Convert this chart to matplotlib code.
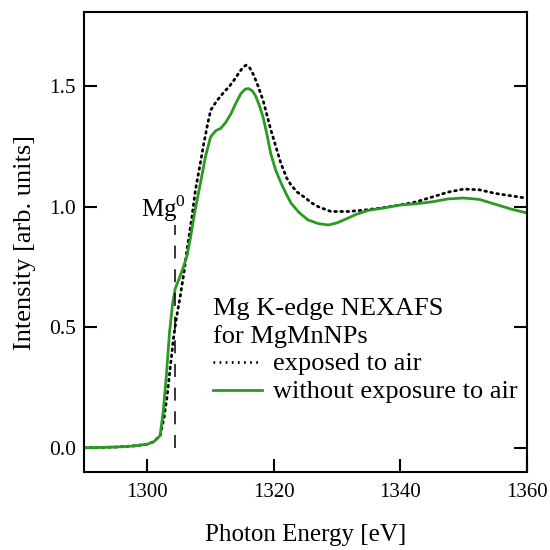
import matplotlib
matplotlib.use("Agg")
import matplotlib.pyplot as plt

plt.rcParams['font.family'] = ['Liberation Serif', 'DejaVu Serif']
plt.rcParams['mathtext.fontset'] = 'custom'
plt.rcParams['mathtext.rm'] = 'Liberation Serif'

# without exposure to air (green)
energy_noair = [1290, 1295, 1298, 1300, 1301, 1302, 1302.5, 1303, 1303.5, 1304, 1304.4, 1305,
                1305.7, 1306.3, 1306.8, 1307.5, 1308.4, 1309.2, 1310, 1310.8, 1311.6, 1312.4,
                1313.2, 1314, 1314.8, 1315.5, 1316, 1316.6, 1317.1, 1317.7, 1318.3, 1318.9,
                1319.5, 1320.3, 1321.1, 1322, 1322.7, 1324, 1325.4, 1327, 1328.6, 1330, 1331.5,
                1333, 1335, 1337.5, 1340, 1342.5, 1345, 1347.5, 1350, 1352.5, 1355, 1357.5, 1360]
intensity_noair = [0.0, 0.003, 0.008, 0.015, 0.025, 0.05, 0.15, 0.30, 0.48, 0.60, 0.66, 0.70,
                   0.75, 0.80, 0.87, 0.98, 1.10, 1.21, 1.29, 1.315, 1.325, 1.35,
                   1.385, 1.43, 1.47, 1.488, 1.49, 1.48, 1.46, 1.42, 1.37, 1.30,
                   1.22, 1.15, 1.10, 1.05, 1.015, 0.975, 0.945, 0.93, 0.924, 0.933, 0.95,
                   0.968, 0.985, 0.995, 1.007, 1.012, 1.02, 1.032, 1.036, 1.03, 1.01, 0.99, 0.974]

# exposed to air (black dotted)
energy_air = [1290, 1295, 1298, 1300, 1301, 1302, 1302.6, 1303.1, 1303.6, 1304.1, 1304.6, 1305.2,
              1305.8, 1306.3, 1307, 1307.6, 1308.3, 1308.9, 1309.5, 1310, 1311, 1312.1, 1313,
              1313.7, 1314.6, 1315.2, 1315.6, 1316.2, 1316.8, 1317.5, 1318.3, 1319, 1319.5,
              1320.3, 1321.1, 1322, 1322.7, 1323.7, 1324.8, 1326, 1327, 1328, 1329, 1331.7,
              1334, 1337, 1340, 1342.5, 1345, 1347.5, 1350, 1352.5, 1355, 1357.5, 1360]
intensity_air = [0.0, 0.003, 0.008, 0.015, 0.025, 0.05, 0.12, 0.21, 0.33, 0.45, 0.54, 0.63,
                 0.73, 0.83, 0.95, 1.07, 1.17, 1.26, 1.34, 1.40, 1.44, 1.475, 1.50,
                 1.525, 1.56, 1.58, 1.587, 1.575, 1.546, 1.50, 1.44, 1.37, 1.32,
                 1.25, 1.18, 1.12, 1.09, 1.06, 1.04, 1.015, 1.0, 0.99, 0.98, 0.98,
                 0.985, 0.995, 1.007, 1.02, 1.04, 1.06, 1.073, 1.07, 1.055, 1.045, 1.035]

mg0_energy = 1304.3
mg0_top = 0.924

xticks = [1300, 1320, 1340, 1360]
yticks = [0.0, 0.5, 1.0, 1.5]
ytick_labels = ['0.0', '0.5', '1.0', '1.5']

green = '#2a9a22'
dot_style = (0, (0.6, 1.6))

fig = plt.figure(figsize=(5.5, 5.5), dpi=100)
ax = fig.add_axes([0.153, 0.142, 0.805, 0.836])

ax.plot(energy_air, intensity_air, color='black', lw=2.0, linestyle=dot_style,
        dash_capstyle='round')
ax.plot(energy_noair, intensity_noair, color=green, lw=2.0)
ax.plot([mg0_energy, mg0_energy], [0.0, mg0_top], color='black', lw=1.1,
        linestyle=(0, (8.5, 7)))
ax.text(1299.0, 0.957, r'Mg$^{0}$', ha='left', va='baseline', fontsize=18)

ax.set_xlim(1290, 1360)
ax.set_ylim(-0.1, 1.807)
ax.set_xticks(xticks)
ax.set_yticks(yticks)
ax.set_yticklabels(ytick_labels)
ax.tick_params(axis='both', direction='in', length=9.4, width=1.5)
ax.tick_params(axis='x', labelsize=15, pad=8)
ax.tick_params(axis='y', labelsize=15.5, pad=6, right=True)
for s in ax.spines.values():
    s.set_linewidth(1.5)

ax.set_xlabel('Photon Energy [eV]', fontsize=18, labelpad=16)
ax.set_ylabel('Intensity [arb. units]', fontsize=19, labelpad=9)

# annotation legend
tx = 0.291
fs = 19
ax.text(tx, 0.341, 'Mg K-edge NEXAFS', transform=ax.transAxes, fontsize=fs, va='baseline')
ax.text(tx, 0.280, 'for MgMnNPs', transform=ax.transAxes, fontsize=fs, va='baseline')
ax.plot([tx, 0.402], [0.239, 0.239], transform=ax.transAxes, color='black', lw=2.0,
        linestyle=dot_style)
ax.text(0.427, 0.222, 'exposed to air', transform=ax.transAxes, fontsize=fs, va='baseline')
ax.plot([tx, 0.402], [0.178, 0.178], transform=ax.transAxes, color=green, lw=2.0)
ax.text(0.427, 0.161, 'without exposure to air', transform=ax.transAxes, fontsize=fs,
        va='baseline')

fig.savefig('out.png', dpi=100)
